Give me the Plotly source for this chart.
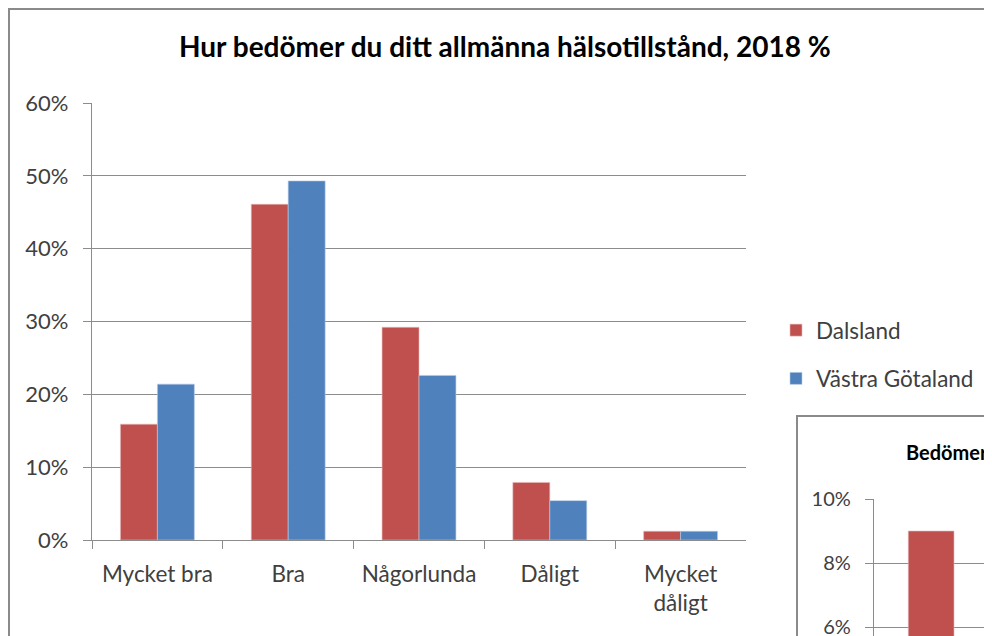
import plotly.graph_objects as go

W, H = 992, 636
OFF = 8  # page body margin in the browser

categories = ["Mycket bra", "Bra", "Någorlunda", "Dåligt", "Mycket<br>dåligt"]
dalsland = [15.9, 46.1, 29.2, 7.9, 1.2]
vastra_gotaland = [21.4, 49.3, 22.6, 5.4, 1.2]
y_ticks = [0, 10, 20, 30, 40, 50, 60]

# second (partially visible) chart
second_values = [9.0]
second_ticks = [6, 8, 10]
second_title = "Bedömer"

RED = "#C0504D"
BLUE = "#4F81BD"
GRID = "#8C8C8C"
FONT = "Lato, Carlito, Calibri, sans-serif"
TXT = "#404040"

def px_x(x):
    return (x - OFF) / W

def px_y(y):
    return 1 - (y - OFF) / H

fig = go.Figure()
fig.add_trace(go.Bar(x=categories, y=dalsland, name="Dalsland",
                     marker=dict(color=RED, line=dict(color="#E6B9B8", width=0.6)),
                     xaxis="x", yaxis="y", legendgroup="a"))
fig.add_trace(go.Bar(x=categories, y=vastra_gotaland, name="Västra Götaland",
                     marker=dict(color=BLUE, line=dict(color="#B9CDE5", width=0.6)),
                     xaxis="x", yaxis="y", legendgroup="b"))
fig.add_trace(go.Bar(x=[0], y=second_values, width=[0.2857], offset=[-0.2857],
                     marker=dict(color=RED, line=dict(color="#E6B9B8", width=0.6)),
                     xaxis="x2", yaxis="y2", showlegend=False))

shapes = [
    dict(type="rect", xref="paper", yref="paper",
         x0=px_x(9), x1=px_x(1010), y0=px_y(660), y1=px_y(9),
         line=dict(color="#8A8A8A", width=2), fillcolor="rgba(0,0,0,0)", layer="below"),
    dict(type="rect", xref="paper", yref="paper",
         x0=px_x(797), x1=px_x(1010), y0=px_y(660), y1=px_y(416),
         line=dict(color="#8A8A8A", width=2), fillcolor="white", layer="below"),
]

fig.update_layout(
    width=W, height=H, autosize=False,
    margin=dict(l=0, r=0, t=0, b=0, pad=0, autoexpand=False),
    paper_bgcolor="white", plot_bgcolor="rgba(0,0,0,0)",
    font=dict(family=FONT, size=22, color=TXT),
    barmode="group", bargap=0.435, bargroupgap=0.0,
    showlegend=True,
    legend=dict(x=px_x(776), y=px_y(309), xanchor="left", yanchor="top",
                font=dict(size=22.5, color=TXT), tracegroupgap=16,
                bgcolor="rgba(0,0,0,0)", borderwidth=0, itemclick=False),
    xaxis=dict(domain=[px_x(92), px_x(746)], anchor="y", automargin=False,
               showline=True, linecolor=GRID, linewidth=1.3,
               ticks="outside", ticklen=8, tickcolor=GRID, tickson="boundaries",
               showgrid=False, ticklabelstandoff=14,
               tickfont=dict(size=22.5, color=TXT)),
    yaxis=dict(domain=[px_y(540), px_y(103)], anchor="x", range=[0, 60], automargin=False,
               tickmode="array", tickvals=y_ticks, ticktext=[f"{v}%" for v in y_ticks],
               showline=True, linecolor=GRID, linewidth=1.3,
               ticks="outside", ticklen=8, tickcolor=GRID,
               showgrid=True, gridcolor=GRID, gridwidth=1.3,
               zeroline=False, ticklabelstandoff=10,
               tickfont=dict(size=22, color=TXT)),
    xaxis2=dict(domain=[px_x(874), 1.0], anchor="y2", range=[-0.5, 0.2375 + 8/160], automargin=False,
                showline=False, showticklabels=False, showgrid=False, zeroline=False),
    yaxis2=dict(domain=[0.0, px_y(499)], anchor="x2", range=[10 - 145/32, 10], automargin=False,
                tickmode="array", tickvals=second_ticks, ticktext=[f"{v}%" for v in second_ticks],
                showline=True, linecolor=GRID, linewidth=1.3,
                ticks="outside", ticklen=8, tickcolor=GRID,
                showgrid=True, gridcolor=GRID, gridwidth=1.3,
                zeroline=False, ticklabelstandoff=10,
                tickfont=dict(size=20, color=TXT)),
    shapes=shapes,
    annotations=[
        dict(text="<b>Hur bedömer du ditt allmänna hälsotillstånd, 2018 %</b>",
             xref="paper", yref="paper", x=px_x(505), y=px_y(46),
             xanchor="center", yanchor="middle", showarrow=False,
             font=dict(family=FONT, size=28, color="#000000")),
        dict(text="<b>" + second_title + "</b>",
             xref="paper", yref="paper", x=px_x(904), y=px_y(452),
             xanchor="left", yanchor="middle", showarrow=False,
             font=dict(family=FONT, size=20, color="#000000")),
    ],
)

fig.write_html("out.html")
